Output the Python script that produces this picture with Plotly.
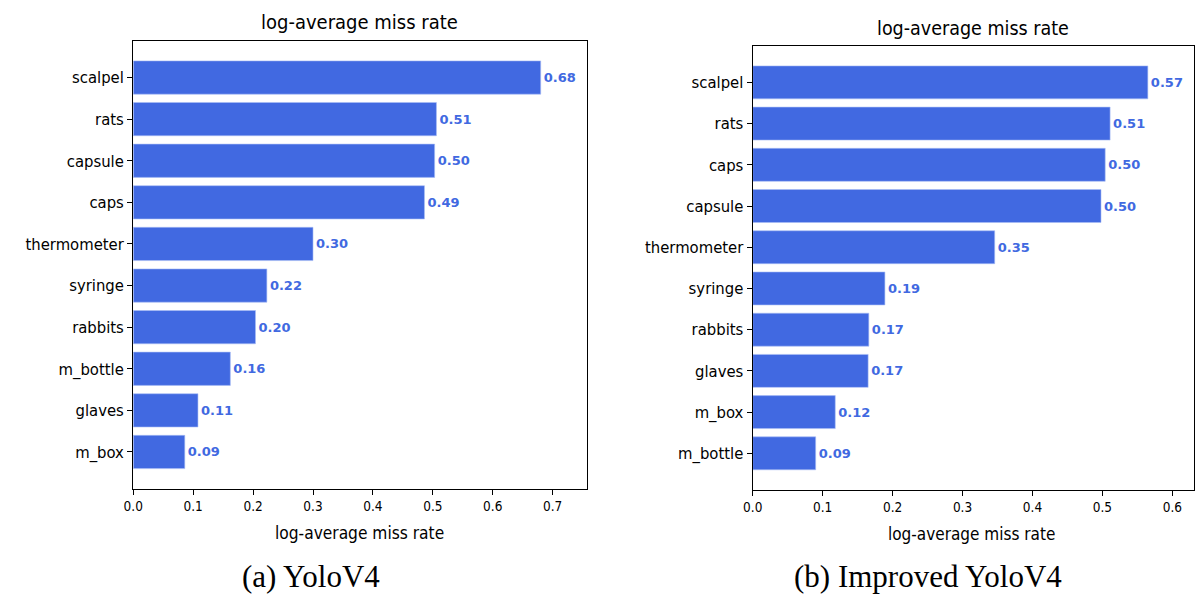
import plotly.graph_objects as go

W, H = 1196, 595

cats_a = ["scalpel", "rats", "capsule", "caps", "thermometer", "syringe", "rabbits", "m_bottle", "glaves", "m_box"]
vals_a = [0.68, 0.506, 0.503, 0.486, 0.300, 0.223, 0.204, 0.162, 0.108, 0.086]
labels_a = ["0.68", "0.51", "0.50", "0.49", "0.30", "0.22", "0.20", "0.16", "0.11", "0.09"]

cats_b = ["scalpel", "rats", "caps", "capsule", "thermometer", "syringe", "rabbits", "glaves", "m_box", "m_bottle"]
vals_b = [0.565, 0.511, 0.504, 0.498, 0.346, 0.189, 0.166, 0.165, 0.118, 0.090]
labels_b = ["0.57", "0.51", "0.50", "0.50", "0.35", "0.19", "0.17", "0.17", "0.12", "0.09"]

xticks_a = [0.0, 0.1, 0.2, 0.3, 0.4, 0.5, 0.6, 0.7]
xticks_b = [0.0, 0.1, 0.2, 0.3, 0.4, 0.5, 0.6]

title_text = "log-average miss rate"
xlabel_text = "log-average miss rate"
captions = ["(a) YoloV4", "(b) Improved YoloV4"]

BLUE = "#4169E1"
FONT = "DejaVu Sans Condensed, DejaVu Sans"
SERIF = "Liberation Serif, Times New Roman, serif"

def px_x(x):
    return x / W

def px_y(y):
    return 1 - y / H

fig = go.Figure()

for cats, vals, labels, xa, ya in [(cats_a, vals_a, labels_a, "x", "y"),
                                   (cats_b, vals_b, labels_b, "x2", "y2")]:
    fig.add_trace(go.Bar(
        y=cats, x=vals, orientation="h", width=0.8,
        marker=dict(color=BLUE, line=dict(color="#a9bdf5", width=0.6)),
        text=labels, textposition="outside",
        textfont=dict(color=BLUE, size=13, family="DejaVu Sans"),
        texttemplate="<b>%{text}</b>", cliponaxis=False,
        xaxis=xa, yaxis=ya, showlegend=False,
    ))

axis_common = dict(
    showline=True, linecolor="black", linewidth=1.2, mirror=True,
    ticks="outside", ticklen=5, tickcolor="black", tickwidth=1,
    showgrid=False, zeroline=False,
)

fig.update_layout(
    width=W, height=H,
    margin=dict(l=0, r=0, t=0, b=0),
    paper_bgcolor="white", plot_bgcolor="white",
    font=dict(family=FONT, color="black"),
    bargap=0.2,
    xaxis=dict(domain=[px_x(124.3), px_x(582.3)], range=[0, 0.758], anchor="y",
               tickvals=xticks_a, ticktext=[f"{v:.1f}" for v in xticks_a],
               tickfont=dict(size=13.5), **axis_common),
    yaxis=dict(domain=[px_y(489), px_y(40.5)], anchor="x",
               categoryorder="array", categoryarray=cats_a,
               range=[9.89, -0.89], tickfont=dict(size=16.5), **axis_common),
    xaxis2=dict(domain=[px_x(749), px_x(1194)], range=[0, 0.631], anchor="y2",
                tickvals=xticks_b, ticktext=[f"{v:.1f}" for v in xticks_b],
                tickfont=dict(size=13.5), **axis_common),
    yaxis2=dict(domain=[px_y(490), px_y(45.7)], anchor="x2",
                categoryorder="array", categoryarray=cats_b,
                range=[9.89, -0.89], tickfont=dict(size=16.5), **axis_common),
)

ann = []
ann.append(dict(x=px_x(352.5), y=px_y(22.5), text=title_text, font=dict(size=20)))
ann.append(dict(x=px_x(971), y=px_y(28), text=title_text, font=dict(size=19.5)))
ann.append(dict(x=px_x(352.5), y=px_y(532.5), text=xlabel_text, font=dict(size=17.2)))
ann.append(dict(x=px_x(970), y=px_y(533.5), text=xlabel_text, font=dict(size=17)))
ann.append(dict(x=px_x(304), y=px_y(576), text=captions[0], font=dict(size=31, family=SERIF)))
ann.append(dict(x=px_x(926), y=px_y(576), text=captions[1], font=dict(size=31, family=SERIF)))
for a in ann:
    a.update(xref="paper", yref="paper", showarrow=False, xanchor="center", yanchor="middle")
fig.update_layout(annotations=ann)

fig.write_html(
    "out.html",
    config={"displayModeBar": False},
    post_script="document.body.style.margin='0';document.body.style.overflow='hidden';",
)
